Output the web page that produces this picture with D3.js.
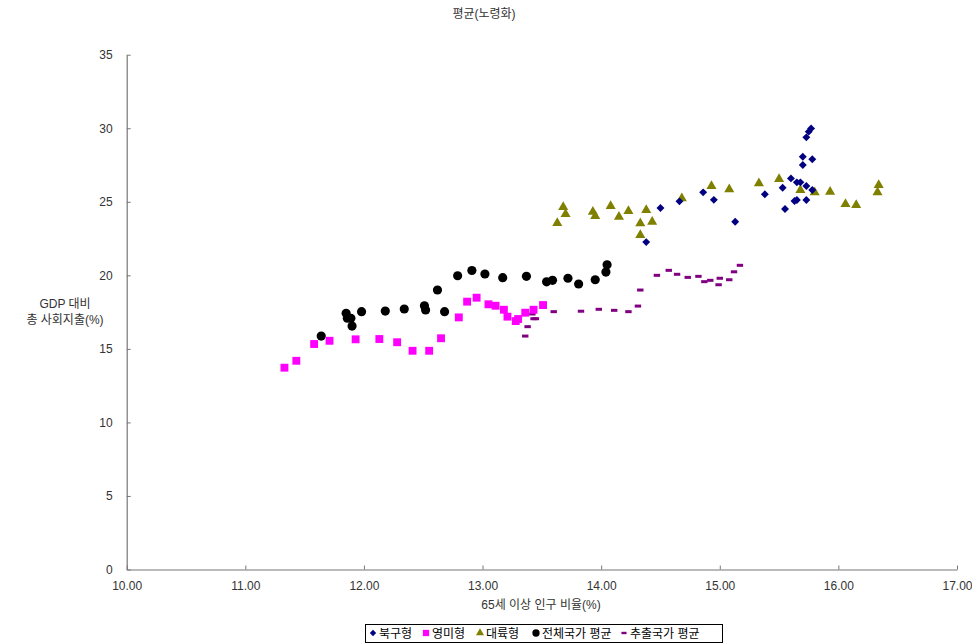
<!DOCTYPE html>
<html>
<head>
<meta charset="utf-8">
<script src="https://cdn.jsdelivr.net/npm/d3@7"></script>
<style>
  html, body { margin: 0; padding: 0; background: #fff; }
  svg { display: block; font-family: "Liberation Sans", "Noto Sans CJK KR", sans-serif; }
</style>
</head>
<body>
<svg id="chart" width="972" height="643"></svg>
<script>
// Social expenditure (% of GDP) vs. share of population aged 65+, by welfare regime
const chartTitle = "평균(노령화)";
const xTitle = "65세 이상 인구 비율(%)";
const yTitle = ["GDP 대비", "총 사회지출(%)"];
const xTicks = [10, 11, 12, 13, 14, 15, 16, 17];
const yTicks = [0, 5, 10, 15, 20, 25, 30, 35];

// 북구형 (Nordic)
const nordicX = [14.38, 14.50, 14.66, 14.86, 14.95, 15.13, 15.38, 15.53, 15.55, 15.60, 15.63, 15.65,
                 15.65, 15.68, 15.70, 15.70, 15.73, 15.73, 15.73, 15.75, 15.77, 15.78, 15.78];
const nordicY = [22.26, 24.58, 25.03, 25.64, 25.13, 23.64, 25.51, 25.96, 24.51, 26.59, 25.05, 26.32,
                 25.12, 26.32, 28.06, 27.50, 29.38, 26.07, 25.12, 29.77, 29.99, 27.89, 25.80];

// 영미형 (Anglo-American)
const angloX = [11.33, 11.43, 11.58, 11.71, 11.93, 12.13, 12.28, 12.41, 12.55, 12.65, 12.80,
                12.87, 12.95, 13.05, 13.11, 13.18, 13.21, 13.28, 13.30, 13.36, 13.43, 13.51];
const angloY = [13.72, 14.19, 15.33, 15.55, 15.65, 15.67, 15.45, 14.87, 14.87, 15.72, 17.14,
                18.21, 18.48, 18.03, 17.93, 17.66, 17.19, 16.89, 17.03, 17.46, 17.66, 17.98];

// 대륙형 (Continental)
const contX = [13.63, 13.68, 13.70, 13.93, 13.95, 14.08, 14.15, 14.23, 14.33, 14.33, 14.38, 14.43,
               14.68, 14.93, 15.08, 15.33, 15.50, 15.68, 15.80, 15.93, 16.06, 16.15, 16.34, 16.33];
const contY = [23.56, 24.64, 24.17, 24.32, 24.03, 24.71, 23.98, 24.37, 23.54, 22.74, 24.44, 23.64,
               25.23, 26.07, 25.85, 26.25, 26.55, 25.80, 25.64, 25.68, 24.85, 24.78, 26.13, 25.64];

// 전체국가 평균 (all countries)
const allX = [11.64, 11.85, 11.86, 11.89, 11.90, 11.98, 12.18, 12.34, 12.51, 12.52, 12.62, 12.68,
              12.79, 12.91, 13.02, 13.17, 13.37, 13.54, 13.59, 13.72, 13.81, 13.95, 14.04, 14.05];
const allY = [15.87, 17.42, 17.08, 17.08, 16.55, 17.53, 17.57, 17.71, 17.93, 17.64, 19.00, 17.53,
              19.97, 20.33, 20.09, 19.84, 19.93, 19.56, 19.66, 19.80, 19.41, 19.70, 20.22, 20.72];

// 추출국가 평균 (selected countries)
const selX = [13.36, 13.38, 13.42, 13.43, 13.45, 13.60, 13.83, 13.98, 14.11, 14.23, 14.31, 14.33,
              14.47, 14.57, 14.64, 14.73, 14.82, 14.87, 14.92, 15.00, 14.99, 15.08, 15.12, 15.17];
const selY = [15.87, 16.51, 17.37, 17.05, 17.05, 17.53, 17.56, 17.69, 17.62, 17.53, 17.91, 19.00,
              20.00, 20.34, 20.07, 19.86, 19.93, 19.57, 19.66, 19.80, 19.36, 19.70, 20.24, 20.68];

const seriesNames = ["북구형", "영미형", "대륙형", "전체국가 평균", "추출국가 평균"];

const svg = d3.select("#chart");
const plot = { left: 126.7, right: 957, top: 54.7, bottom: 569.5 };

const x = d3.scaleLinear().domain([10, 17]).range([plot.left, plot.right]);
const y = d3.scaleLinear().domain([0, 35]).range([plot.bottom, plot.top]);

const axisColor = "#777";
const textColor = "#333";

// Title
svg.append("text")
  .attr("x", 484).attr("y", 18)
  .attr("text-anchor", "middle")
  .attr("font-size", 12).attr("fill", textColor)
  .text(chartTitle);

// Axes with inward ticks
const xAxis = svg.append("g")
  .attr("transform", `translate(0,${plot.bottom})`)
  .call(d3.axisBottom(x).tickValues(xTicks).tickFormat(d3.format(".2f")).tickSizeInner(-4).tickSizeOuter(0).tickPadding(12));
const yAxis = svg.append("g")
  .attr("transform", `translate(${plot.left},0)`)
  .call(d3.axisLeft(y).tickValues(yTicks).tickSizeInner(-4).tickSizeOuter(0).tickPadding(14));

[xAxis, yAxis].forEach(g => {
  g.select(".domain").attr("stroke", axisColor).attr("stroke-width", 1.2);
  g.selectAll(".tick line").attr("stroke", axisColor);
  g.selectAll(".tick text").attr("fill", textColor).attr("font-size", 12)
    .attr("font-family", "Liberation Sans, sans-serif");
});

// Axis titles
svg.append("text")
  .attr("x", 541).attr("y", 609)
  .attr("text-anchor", "middle")
  .attr("font-size", 12).attr("fill", textColor)
  .text(xTitle);
svg.append("text")
  .attr("text-anchor", "middle")
  .attr("font-size", 12).attr("fill", textColor)
  .selectAll("tspan").data(yTitle).join("tspan")
  .attr("x", 65).attr("y", (d, i) => 308 + i * 16)
  .text(d => d);

// Marker shapes
const markers = [
  { name: seriesNames[0], xs: nordicX, ys: nordicY, color: "#000080",
    shape: d3.symbol().type(d3.symbolDiamond2).size(40)() },
  { name: seriesNames[1], xs: angloX, ys: angloY, color: "#FF00FF",
    shape: d3.symbol().type(d3.symbolSquare).size(62)() },
  { name: seriesNames[2], xs: contX, ys: contY, color: "#808000",
    shape: d3.symbol().type(d3.symbolTriangle).size(44)() },
  { name: seriesNames[3], xs: allX, ys: allY, color: "#000000",
    shape: d3.symbol().type(d3.symbolCircle).size(66)() },
  { name: seriesNames[4], xs: selX, ys: selY, color: "#800080",
    shape: "M-3.2,-1.5H3.2V1.5H-3.2Z" }
];

const drawOrder = [4, 3, 1, 2, 0];
drawOrder.forEach(idx => {
  const s = markers[idx];
  const pts = s.xs.map((v, i) => [v, s.ys[i]]);
  svg.append("g").selectAll("path").data(pts).join("path")
    .attr("d", s.shape)
    .attr("transform", d => `translate(${x(d[0])},${y(d[1])})`)
    .attr("fill", s.color);
});

// Legend
const legend = svg.append("g");
const itemX = [370, 423, 477, 533, 621];
const legY = 633;
legend.append("rect")
  .attr("x", 365.5).attr("y", 624.5)
  .attr("width", 357).attr("height", 18)
  .attr("fill", "#fff").attr("stroke", "#000").attr("stroke-width", 1);
markers.forEach((s, i) => {
  legend.append("path")
    .attr("d", s.shape)
    .attr("transform", `translate(${itemX[i] + 3},${legY}) scale(0.8)`)
    .attr("fill", s.color);
  legend.append("text")
    .attr("x", itemX[i] + 9).attr("y", legY + 4.5)
    .attr("font-size", 12).attr("fill", "#000")
    .text(s.name);
});
</script>
</body>
</html>
